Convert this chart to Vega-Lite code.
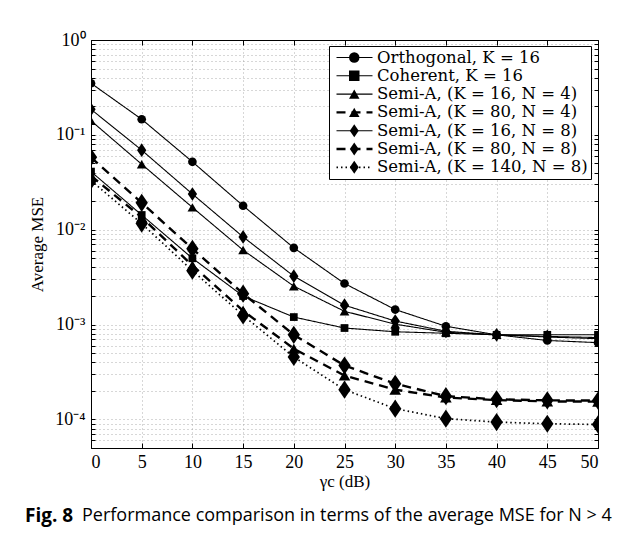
{
  "$schema": "https://vega.github.io/schema/vega-lite/v6.json",
  "width": 507,
  "height": 408,
  "autosize": {"type": "none"},
  "padding": {"left": 91, "top": 40, "right": 28, "bottom": 92},
  "background": "white",
  "config": {
    "view": {"stroke": null},
    "font": "Liberation Serif",
    "axis": {
      "domainColor": "black",
      "domainWidth": 1,
      "tickColor": "black",
      "labelColor": "black",
      "titleColor": "black",
      "labelFont": "Liberation Serif",
      "titleFont": "Liberation Serif",
      "titleFontWeight": "normal",
      "gridColor": "#999999",
      "gridDash": [1, 3],
      "gridWidth": 0.8
    }
  },
  "title": {
    "text": "Fig. 8",
    "subtitle": "\u200b\u2003\u2003\u2003\u2009Performance comparison in terms of the average MSE for N > 4",
    "orient": "bottom",
    "anchor": "start",
    "frame": "group",
    "dx": -66,
    "offset": 18,
    "font": "Open Sans",
    "fontSize": 19,
    "fontWeight": "bold",
    "color": "black",
    "subtitleFont": "Open Sans",
    "subtitleFontSize": 18,
    "subtitleFontWeight": "normal",
    "subtitleColor": "black",
    "subtitlePadding": -19
  },
  "data": {
    "values": [
      {"s": "Orthogonal, K = 16", "x": 0, "y": 0.35},
      {"s": "Orthogonal, K = 16", "x": 5, "y": 0.146},
      {"s": "Orthogonal, K = 16", "x": 10, "y": 0.052},
      {"s": "Orthogonal, K = 16", "x": 15, "y": 0.0179},
      {"s": "Orthogonal, K = 16", "x": 20, "y": 0.00644},
      {"s": "Orthogonal, K = 16", "x": 25, "y": 0.00271},
      {"s": "Orthogonal, K = 16", "x": 30, "y": 0.00144},
      {"s": "Orthogonal, K = 16", "x": 35, "y": 0.00096},
      {"s": "Orthogonal, K = 16", "x": 40, "y": 0.00078},
      {"s": "Orthogonal, K = 16", "x": 45, "y": 0.00068},
      {"s": "Orthogonal, K = 16", "x": 50, "y": 0.000645},
      {"s": "Coherent, K = 16", "x": 0, "y": 0.041},
      {"s": "Coherent, K = 16", "x": 5, "y": 0.0143},
      {"s": "Coherent, K = 16", "x": 10, "y": 0.005},
      {"s": "Coherent, K = 16", "x": 15, "y": 0.002},
      {"s": "Coherent, K = 16", "x": 20, "y": 0.0012},
      {"s": "Coherent, K = 16", "x": 25, "y": 0.00092},
      {"s": "Coherent, K = 16", "x": 30, "y": 0.00084},
      {"s": "Coherent, K = 16", "x": 35, "y": 0.00081},
      {"s": "Coherent, K = 16", "x": 40, "y": 0.00078},
      {"s": "Coherent, K = 16", "x": 45, "y": 0.00078},
      {"s": "Coherent, K = 16", "x": 50, "y": 0.00078},
      {"s": "Semi-A, (K = 16, N = 4)", "x": 0, "y": 0.141},
      {"s": "Semi-A, (K = 16, N = 4)", "x": 5, "y": 0.049},
      {"s": "Semi-A, (K = 16, N = 4)", "x": 10, "y": 0.0172},
      {"s": "Semi-A, (K = 16, N = 4)", "x": 15, "y": 0.0061},
      {"s": "Semi-A, (K = 16, N = 4)", "x": 20, "y": 0.00254},
      {"s": "Semi-A, (K = 16, N = 4)", "x": 25, "y": 0.00138},
      {"s": "Semi-A, (K = 16, N = 4)", "x": 30, "y": 0.00101},
      {"s": "Semi-A, (K = 16, N = 4)", "x": 35, "y": 0.00083},
      {"s": "Semi-A, (K = 16, N = 4)", "x": 40, "y": 0.00078},
      {"s": "Semi-A, (K = 16, N = 4)", "x": 45, "y": 0.00074},
      {"s": "Semi-A, (K = 16, N = 4)", "x": 50, "y": 0.00071},
      {"s": "Semi-A, (K = 80, N = 4)", "x": 0, "y": 0.037},
      {"s": "Semi-A, (K = 80, N = 4)", "x": 5, "y": 0.0135},
      {"s": "Semi-A, (K = 80, N = 4)", "x": 10, "y": 0.0042},
      {"s": "Semi-A, (K = 80, N = 4)", "x": 15, "y": 0.0014},
      {"s": "Semi-A, (K = 80, N = 4)", "x": 20, "y": 0.000557},
      {"s": "Semi-A, (K = 80, N = 4)", "x": 25, "y": 0.00029},
      {"s": "Semi-A, (K = 80, N = 4)", "x": 30, "y": 0.000206},
      {"s": "Semi-A, (K = 80, N = 4)", "x": 35, "y": 0.00017},
      {"s": "Semi-A, (K = 80, N = 4)", "x": 40, "y": 0.00016},
      {"s": "Semi-A, (K = 80, N = 4)", "x": 45, "y": 0.000155},
      {"s": "Semi-A, (K = 80, N = 4)", "x": 50, "y": 0.000154},
      {"s": "Semi-A, (K = 16, N = 8)", "x": 0, "y": 0.186},
      {"s": "Semi-A, (K = 16, N = 8)", "x": 5, "y": 0.069},
      {"s": "Semi-A, (K = 16, N = 8)", "x": 10, "y": 0.0238},
      {"s": "Semi-A, (K = 16, N = 8)", "x": 15, "y": 0.0084},
      {"s": "Semi-A, (K = 16, N = 8)", "x": 20, "y": 0.00324},
      {"s": "Semi-A, (K = 16, N = 8)", "x": 25, "y": 0.0016},
      {"s": "Semi-A, (K = 16, N = 8)", "x": 30, "y": 0.00109},
      {"s": "Semi-A, (K = 16, N = 8)", "x": 35, "y": 0.00085},
      {"s": "Semi-A, (K = 16, N = 8)", "x": 40, "y": 0.00078},
      {"s": "Semi-A, (K = 16, N = 8)", "x": 45, "y": 0.00075},
      {"s": "Semi-A, (K = 16, N = 8)", "x": 50, "y": 0.00073},
      {"s": "Semi-A, (K = 80, N = 8)", "x": 0, "y": 0.058},
      {"s": "Semi-A, (K = 80, N = 8)", "x": 5, "y": 0.0192},
      {"s": "Semi-A, (K = 80, N = 8)", "x": 10, "y": 0.0063},
      {"s": "Semi-A, (K = 80, N = 8)", "x": 15, "y": 0.00212},
      {"s": "Semi-A, (K = 80, N = 8)", "x": 20, "y": 0.00078},
      {"s": "Semi-A, (K = 80, N = 8)", "x": 25, "y": 0.00037},
      {"s": "Semi-A, (K = 80, N = 8)", "x": 30, "y": 0.000238},
      {"s": "Semi-A, (K = 80, N = 8)", "x": 35, "y": 0.000176},
      {"s": "Semi-A, (K = 80, N = 8)", "x": 40, "y": 0.000163},
      {"s": "Semi-A, (K = 80, N = 8)", "x": 45, "y": 0.000159},
      {"s": "Semi-A, (K = 80, N = 8)", "x": 50, "y": 0.000158},
      {"s": "Semi-A, (K = 140, N = 8)", "x": 0, "y": 0.033},
      {"s": "Semi-A, (K = 140, N = 8)", "x": 5, "y": 0.0116},
      {"s": "Semi-A, (K = 140, N = 8)", "x": 10, "y": 0.0037},
      {"s": "Semi-A, (K = 140, N = 8)", "x": 15, "y": 0.00125},
      {"s": "Semi-A, (K = 140, N = 8)", "x": 20, "y": 0.000455},
      {"s": "Semi-A, (K = 140, N = 8)", "x": 25, "y": 0.000206},
      {"s": "Semi-A, (K = 140, N = 8)", "x": 30, "y": 0.00013},
      {"s": "Semi-A, (K = 140, N = 8)", "x": 35, "y": 0.000102},
      {"s": "Semi-A, (K = 140, N = 8)", "x": 40, "y": 0.0000937},
      {"s": "Semi-A, (K = 140, N = 8)", "x": 45, "y": 0.00009},
      {"s": "Semi-A, (K = 140, N = 8)", "x": 50, "y": 0.0000886}
    ]
  },
  "resolve": {"axis": {"x": "independent", "y": "independent"}},
  "layer": [
    {
      "mark": {"type": "line", "color": "black", "clip": true},
      "encoding": {
        "x": {
          "field": "x", "type": "quantitative",
          "scale": {"domain": [0, 50], "nice": false},
          "axis": {
            "orient": "bottom",
            "values": [0, 5, 10, 15, 20, 25, 30, 35, 40, 45, 50],
            "title": "γc (dB)",
            "titleFontSize": 17,
            "titlePadding": 2,
            "labelFontSize": 18,
            "labelPadding": 10,
            "tickSize": -5,
            "grid": true
          }
        },
        "y": {
          "field": "y", "type": "quantitative",
          "scale": {"type": "log", "domain": [0.00005, 1], "nice": false},
          "axis": {
            "orient": "left",
            "values": [0.00005, 0.00006, 0.00007, 0.00008, 0.00009, 0.0001, 0.0002, 0.0003, 0.0004, 0.0005, 0.0006, 0.0007, 0.0008, 0.0009, 0.001, 0.002, 0.003, 0.004, 0.005, 0.006, 0.007, 0.008, 0.009, 0.01, 0.02, 0.03, 0.04, 0.05, 0.06, 0.07, 0.08, 0.09, 0.1, 0.2, 0.3, 0.4, 0.5, 0.6, 0.7, 0.8, 0.9, 1],
            "labelExpr": "datum.value == 1 ? '10⁰' : datum.value == 0.1 ? '10⁻¹' : datum.value == 0.01 ? '10⁻²' : datum.value == 0.001 ? '10⁻³' : datum.value == 0.0001 ? '10⁻⁴' : ''",
            "labelFontSize": 18,
            "labelPadding": 10,
            "tickSize": -4,
            "title": "Average MSE",
            "titleFontSize": 17,
            "titlePadding": 8,
            "grid": true
          }
        },
        "strokeDash": {
          "field": "s", "type": "nominal",
          "scale": {
            "domain": ["Orthogonal, K = 16", "Coherent, K = 16", "Semi-A, (K = 16, N = 4)", "Semi-A, (K = 80, N = 4)", "Semi-A, (K = 16, N = 8)", "Semi-A, (K = 80, N = 8)", "Semi-A, (K = 140, N = 8)"],
            "range": [[1, 0], [1, 0], [1, 0], [9, 6], [1, 0], [9, 6], [1.5, 3]]
          },
          "legend": {
            "orient": "none", "legendX": 238, "legendY": 6, "title": null,
            "symbolType": "stroke", "symbolSize": 1296, "symbolStrokeColor": "black",
            "labelFont": "DejaVu Serif", "labelFontSize": 16.5, "labelColor": "black", "labelLimit": 400,
            "padding": 3, "symbolOffset": 3, "labelOffset": 3,
            "strokeColor": "black", "fillColor": "white",
            "clipHeight": 17, "rowPadding": 1.3
          }
        },
        "strokeWidth": {
          "field": "s", "type": "nominal",
          "scale": {
            "type": "ordinal",
            "domain": ["Orthogonal, K = 16", "Coherent, K = 16", "Semi-A, (K = 16, N = 4)", "Semi-A, (K = 80, N = 4)", "Semi-A, (K = 16, N = 8)", "Semi-A, (K = 80, N = 8)", "Semi-A, (K = 140, N = 8)"],
            "range": [1.1, 1.1, 1.1, 2.4, 1.1, 2.4, 1.7]
          },
          "legend": {
            "orient": "none", "legendX": 238, "legendY": 6, "title": null,
            "symbolType": "stroke", "symbolSize": 1296, "symbolStrokeColor": "black",
            "labelFont": "DejaVu Serif", "labelFontSize": 16.5, "labelColor": "black", "labelLimit": 400,
            "padding": 3, "symbolOffset": 3, "labelOffset": 3,
            "strokeColor": "black", "fillColor": "white",
            "clipHeight": 17, "rowPadding": 1.3
          }
        }
      }
    },
    {
      "mark": {"type": "point", "filled": true, "color": "black", "opacity": 1, "clip": true},
      "encoding": {
        "x": {
          "field": "x", "type": "quantitative",
          "axis": {
            "orient": "top", "values": [0, 5, 10, 15, 20, 25, 30, 35, 40, 45, 50],
            "labels": false, "title": null, "tickSize": -5, "grid": false
          }
        },
        "y": {
          "field": "y", "type": "quantitative",
          "axis": {
            "orient": "right",
            "values": [0.00005, 0.00006, 0.00007, 0.00008, 0.00009, 0.0001, 0.0002, 0.0003, 0.0004, 0.0005, 0.0006, 0.0007, 0.0008, 0.0009, 0.001, 0.002, 0.003, 0.004, 0.005, 0.006, 0.007, 0.008, 0.009, 0.01, 0.02, 0.03, 0.04, 0.05, 0.06, 0.07, 0.08, 0.09, 0.1, 0.2, 0.3, 0.4, 0.5, 0.6, 0.7, 0.8, 0.9, 1],
            "labels": false, "title": null, "tickSize": -4, "grid": false
          }
        },
        "shape": {
          "field": "s", "type": "nominal",
          "sort": ["Orthogonal, K = 16", "Coherent, K = 16", "Semi-A, (K = 16, N = 4)", "Semi-A, (K = 80, N = 4)", "Semi-A, (K = 16, N = 8)", "Semi-A, (K = 80, N = 8)", "Semi-A, (K = 140, N = 8)"],
          "scale": {
            "range": ["circle", "square", "triangle-up", "triangle-up", "M0,-1.25L0.85,0L0,1.25L-0.85,0Z", "M0,-1.25L0.85,0L0,1.25L-0.85,0Z", "M0,-1.25L0.85,0L0,1.25L-0.85,0Z"]
          },
          "legend": {
            "orient": "none", "legendX": 249, "legendY": 6, "title": null,
            "labelExpr": "''", "labelFontSize": 16.5, "symbolSize": 110,
            "symbolFillColor": "black", "symbolStrokeColor": "black", "symbolOpacity": 1,
            "padding": 3, "symbolOffset": 3, "clipHeight": 17, "rowPadding": 1.3
          }
        },
        "size": {
          "field": "s", "type": "nominal",
          "sort": ["Orthogonal, K = 16", "Coherent, K = 16", "Semi-A, (K = 16, N = 4)", "Semi-A, (K = 80, N = 4)", "Semi-A, (K = 16, N = 8)", "Semi-A, (K = 80, N = 8)", "Semi-A, (K = 140, N = 8)"],
          "scale": {"type": "ordinal", "range": [75, 60, 95, 135, 120, 210, 210]},
          "legend": null
        }
      }
    }
  ]
}
